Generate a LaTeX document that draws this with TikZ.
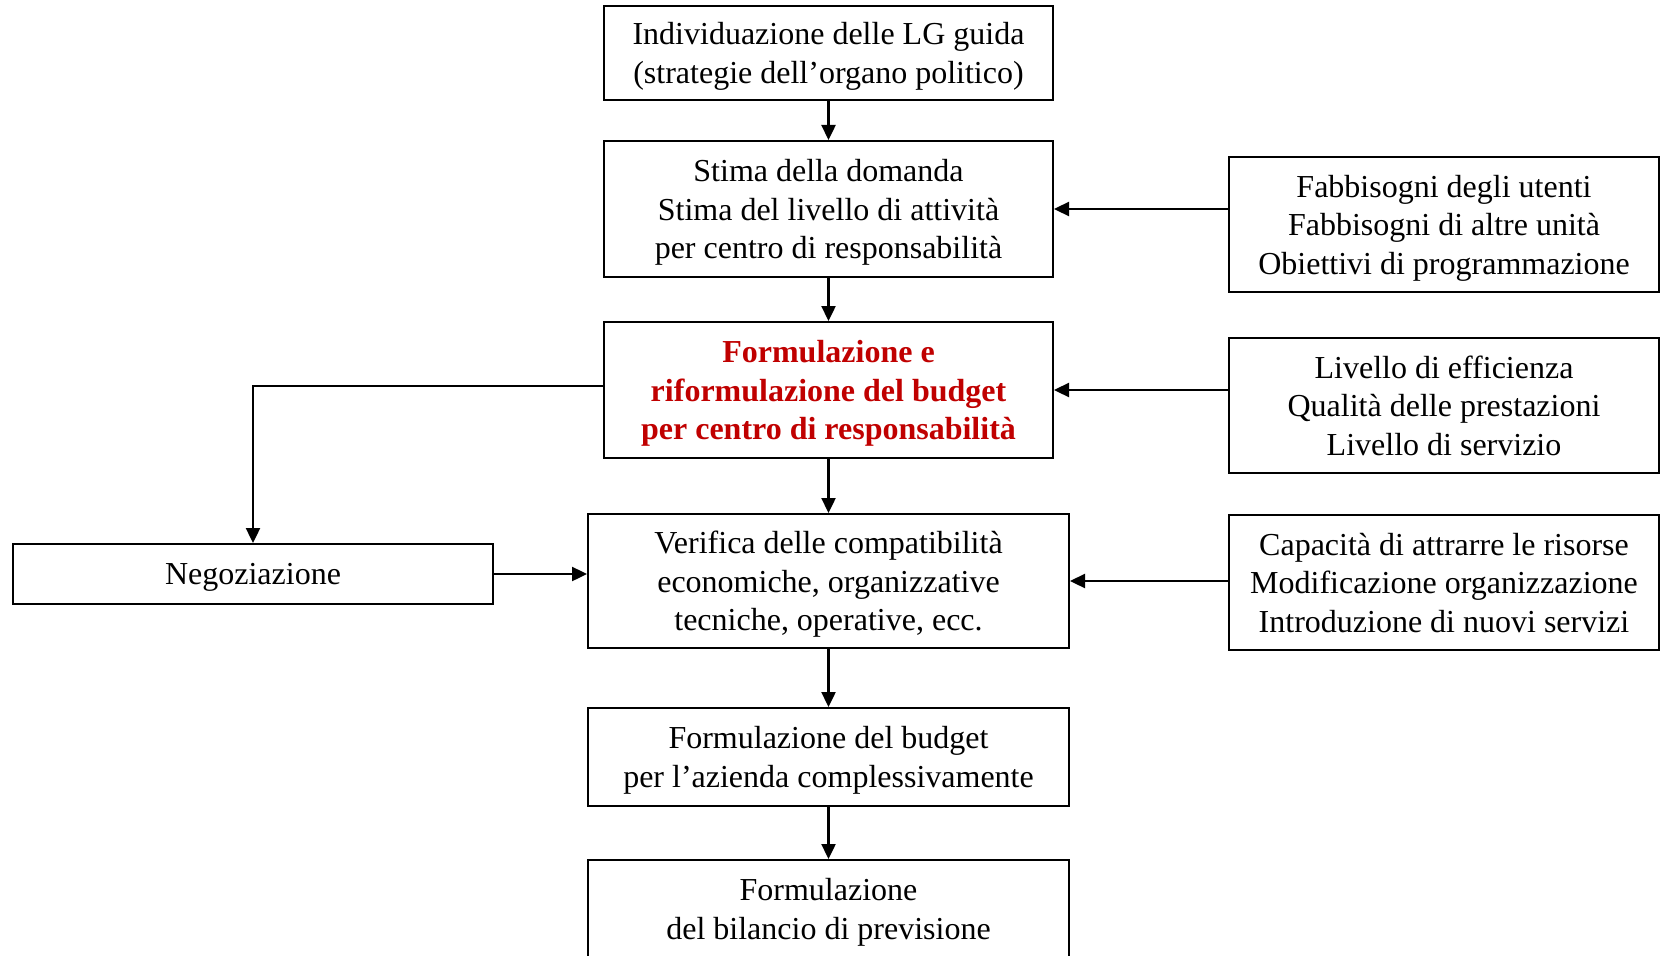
\documentclass[tikz,border=0pt]{standalone}
\usepackage{fontspec}
\setmainfont{Liberation Serif}
\usepackage{xcolor}
\usetikzlibrary{arrows.meta}
\definecolor{budgetred}{HTML}{C00000}

\begin{document}
\begin{tikzpicture}[
    x=1pt, y=-1pt,
    line width=2pt,
    font=\fontsize{32}{38.5}\selectfont,
    box/.style={draw=black, rectangle, align=center, inner sep=0pt, text depth=-2pt},
    >={Triangle[length=15pt,width=14pt]}]
    \useasboundingbox (0,0) rectangle (1661,955);
    % NODES
    % node LG
    \node[box, minimum width=449pt, minimum height=94pt, text depth=-10pt] (LG) at (828.5,53) {Individuazione delle LG guida\\(strategie dell'organo politico)};
    % node SD
    \node[box, minimum width=449pt, minimum height=136pt] (SD) at (828.5,209) {Stima della domanda\\Stima del livello di attività\\per centro di responsabilità};
    % node FB
    \node[box, minimum width=449pt, minimum height=136pt, text=budgetred, font=\fontsize{32}{38.5}\selectfont\bfseries] (FB) at (828.5,390) {Formulazione e\\riformulazione del budget\\per centro di responsabilità};
    % node VC
    \node[box, minimum width=481pt, minimum height=134pt] (VC) at (828.5,581) {Verifica delle compatibilità\\economiche, organizzative\\tecniche, operative, ecc.};
    % node BA
    \node[box, minimum width=481pt, minimum height=98pt] (BA) at (828.5,757) {Formulazione del budget\\per l'azienda complessivamente};
    % node BP
    \node[box, minimum width=481pt, minimum height=98pt] (BP) at (828.5,909) {Formulazione\\del bilancio di previsione};
    % node NG
    \node[box, minimum width=480pt, minimum height=60pt] (NG) at (253,574) {Negoziazione};
    % right nodes
    \node[box, minimum width=430pt, minimum height=135pt] (R1) at (1444,224.5) {Fabbisogni degli utenti\\Fabbisogni di altre unità\\Obiettivi di programmazione};
    \node[box, minimum width=430pt, minimum height=135pt] (R2) at (1444,405.5) {Livello di efficienza\\Qualità delle prestazioni\\Livello di servizio};
    \node[box, minimum width=430pt, minimum height=135pt] (R3) at (1444,582.5) {Capacità di attrarre le risorse\\Modificazione organizzazione\\Introduzione di nuovi servizi};

    % ARROWS
    \draw[->, line width=2.4pt] (LG)--(SD);
    \draw[->, line width=2.4pt] (SD)--(FB);
    \draw[->, line width=2.4pt] (FB)--(VC);
    \draw[->, line width=2.4pt] (VC)--(BA);
    \draw[->, line width=2.4pt] (BA)--(BP);
    \draw[->, line width=2.4pt] (R1.west |- SD.east)--(SD.east);
    \draw[->, line width=2.4pt] (R2.west |- FB.east)--(FB.east);
    \draw[->, line width=2.4pt] (R3.west |- VC.east)--(VC.east);
    \draw[->, line width=2.4pt] ([yshift=4pt]FB.west)-|(NG.north);
    \draw[->, line width=2.4pt] (NG.east)--(NG.east -| VC.west);
\end{tikzpicture}
\end{document}
